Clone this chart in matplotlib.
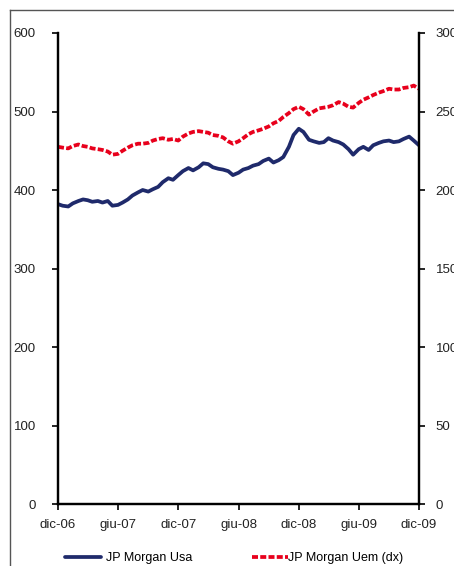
import matplotlib
matplotlib.use("Agg")
import matplotlib.pyplot as plt
from matplotlib.lines import Line2D
import pandas as pd

plt.rcParams['font.family'] = ['Liberation Sans', 'DejaVu Sans']

# Semi-monthly observations, Dec 2006 - Dec 2009
dates = pd.date_range("2006-12-01", periods=73, freq="SMS")

jpm_usa = [382, 380, 379, 383, 386, 388, 387, 385, 386, 384, 386, 380,
           381, 384, 388, 393, 397, 400, 398, 401, 404, 410, 415, 413,
           419, 424, 428, 425, 429, 434, 433, 429, 427, 426, 424, 419,
           422, 426, 428, 431, 433, 437, 440, 435, 438, 442, 455, 470,
           478, 474, 464, 462, 460, 461, 466, 463, 461, 458, 452, 445,
           452, 455, 451, 457, 460, 462, 463, 461, 462, 465, 468, 463,
           457]

jpm_uem = [227.5, 227, 226.5, 228, 229, 228, 227.5, 226.5, 226, 225.5, 224.5, 222.5,
           223, 225, 227, 228.5, 229.5, 229.5, 230, 231.5, 232.5, 233, 232, 232.5,
           231.5, 234, 236, 237, 237.5, 237, 236.5, 235, 234.5, 233.5, 231, 229.5,
           231, 233, 235.5, 237, 238, 239, 240.5, 242.5, 244, 246.5, 249, 251.5,
           253, 251.5, 248, 250, 252, 252.5, 253, 254, 256, 255, 253, 252.5,
           255.5, 257.5, 259, 260.5, 262, 263, 264.5, 264, 264, 265, 265.5, 266.5,
           264.5]

tick_dates = pd.to_datetime(["2006-12-01", "2007-06-01", "2007-12-01", "2008-06-01",
                             "2008-12-01", "2009-06-01", "2009-12-01"])
tick_labels = ["dic-06", "giu-07", "dic-07", "giu-08", "dic-08", "giu-09", "dic-09"]

navy = "#1f2a6b"
red = "#e8001c"

fig = plt.figure(figsize=(4.54, 5.66), dpi=100)
ax = fig.add_axes([0.1278, 0.1095, 0.7951, 0.8322])
ax2 = ax.twinx()

l1, = ax.plot(dates, jpm_usa, color=navy, lw=2.7, solid_capstyle="round")
l2, = ax2.plot(dates, jpm_uem, color=red, lw=2.7, linestyle=(0, (1.6, 0.6)))

ax.set_ylim(0, 600)
ax.set_yticks(range(0, 601, 100))
ax2.set_ylim(0, 300)
ax2.set_yticks(range(0, 301, 50))
ax.set_xlim(tick_dates[0], tick_dates[-1])
ax.set_xticks(tick_dates)
ax.set_xticklabels(tick_labels)

for a in (ax, ax2):
    a.spines["top"].set_visible(False)
    for s in ("left", "right", "bottom"):
        a.spines[s].set_linewidth(1.6)
        a.spines[s].set_color("black")
    a.tick_params(axis="both", direction="out", length=4, width=1.2,
                  labelsize=9.5, colors="black", labelcolor="#222222")
ax.tick_params(axis="y", pad=12)
ax.tick_params(axis="x", pad=7)
ax2.tick_params(axis="y", pad=8)

# legend entries, placed one by one along the bottom edge
leg_kw = dict(loc="center left", frameon=False, fontsize=9, borderpad=0,
              borderaxespad=0, handlelength=2.9)
leg1 = fig.legend([l1], ["JP Morgan Usa"], bbox_to_anchor=(65 / 454, 0.014),
                  handletextpad=0.35, **leg_kw)
leg2 = fig.legend([l2], ["JP Morgan Uem (dx)"], bbox_to_anchor=(252 / 454, 0.014),
                  handletextpad=0.0, **leg_kw)

# outer frame
fig.add_artist(Line2D([0.022, 0.022], [0.0, 0.982], transform=fig.transFigure,
                      color="#555555", lw=1))
fig.add_artist(Line2D([0.022, 1.0], [0.982, 0.982], transform=fig.transFigure,
                      color="#555555", lw=1))

fig.savefig("out.png", dpi=100)
